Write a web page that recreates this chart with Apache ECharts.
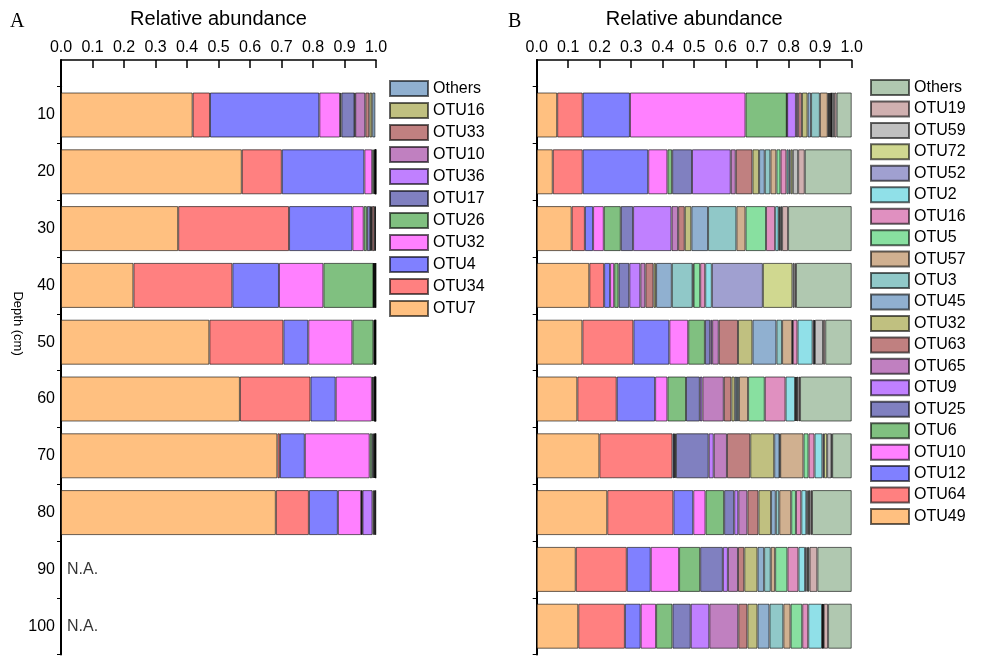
<!DOCTYPE html>
<html>
<head>
<meta charset="utf-8">
<script src="https://cdn.jsdelivr.net/npm/echarts@6/dist/echarts.min.js"></script>
<style>
  html, body { margin: 0; padding: 0; background: #fff; }
  #chart { width: 983px; height: 656px; }
</style>
</head>
<body>
<div id="chart"></div>
<script>
// depth categories (cm)
const depths = ['10', '20', '30', '40', '50', '60', '70', '80', '90', '100'];
const naDepths = ['90', '100'];

// panel A: stacking order, left to right
const otuA = ['OTU7', 'OTU34', 'OTU4', 'OTU32', 'OTU26', 'OTU17', 'OTU36', 'OTU10', 'OTU33', 'OTU16', 'Others'];
const colorsA = ['#FFC080', '#FF8080', '#8080FF', '#FF80FF', '#80C080', '#8080C0', '#C080FF', '#C080C0', '#C08080', '#C0C080', '#90B0D0'];
const a10 = [0.418, 0.055, 0.347, 0.066, 0.004, 0.042, 0.002, 0.032, 0.013, 0.009, 0.010];
const a20 = [0.574, 0.127, 0.262, 0.025, 0.005, 0.003, 0.001, 0.001, 0.001, 0.0005, 0.0005];
const a30 = [0.372, 0.352, 0.201, 0.036, 0.010, 0.011, 0.002, 0.003, 0.008, 0.002, 0.003];
const a40 = [0.230, 0.314, 0.148, 0.141, 0.159, 0.001, 0.001, 0.001, 0.003, 0.001, 0.001];
const a50 = [0.471, 0.235, 0.079, 0.140, 0.067, 0.003, 0.001, 0.001, 0.001, 0.001, 0.001];
const a60 = [0.568, 0.224, 0.080, 0.115, 0.004, 0.004, 0.001, 0.001, 0.001, 0.001, 0.001];
const a70 = [0.687, 0.008, 0.079, 0.206, 0.008, 0.004, 0.002, 0.002, 0.002, 0.001, 0.001];
const a80 = [0.682, 0.105, 0.092, 0.074, 0.002, 0.002, 0.032, 0.004, 0.003, 0.002, 0.002];
const rowsA = [a10, a20, a30, a40, a50, a60, a70, a80, null, null];

// panel B: stacking order, left to right
const otuB = ['OTU49', 'OTU64', 'OTU12', 'OTU10', 'OTU6', 'OTU25', 'OTU9', 'OTU65', 'OTU63', 'OTU32', 'OTU45',
  'OTU3', 'OTU57', 'OTU5', 'OTU16', 'OTU2', 'OTU52', 'OTU72', 'OTU59', 'OTU19', 'Others'];
const colorsB = ['#FFC080', '#FF8080', '#8080FF', '#FF80FF', '#80C080', '#8080C0', '#C080FF', '#C080C0', '#C08080', '#C0C080', '#90B0D0',
  '#90C8C8', '#D0B090', '#88E0A0', '#E090C0', '#90E0E8', '#A0A0D0', '#D0D890', '#C0C0C0', '#D0B0B0', '#B0C8B0'];
const b10 = [0.065, 0.081, 0.150, 0.367, 0.131, 0.001, 0.028, 0.007, 0.012, 0.018, 0.011, 0.028, 0.025, 0.003, 0.003, 0.003, 0.002, 0.002, 0.007, 0.008, 0.048];
const b20 = [0.051, 0.095, 0.208, 0.061, 0.015, 0.063, 0.123, 0.016, 0.053, 0.021, 0.018, 0.018, 0.019, 0.013, 0.019, 0.007, 0.006, 0.007, 0.017, 0.021, 0.149];
const b30 = [0.111, 0.042, 0.026, 0.034, 0.054, 0.039, 0.122, 0.021, 0.021, 0.021, 0.053, 0.090, 0.029, 0.065, 0.029, 0.011, 0.003, 0.003, 0.005, 0.019, 0.202];
const b40 = [0.167, 0.047, 0.019, 0.013, 0.014, 0.034, 0.035, 0.016, 0.026, 0.008, 0.050, 0.066, 0.003, 0.021, 0.016, 0.021, 0.162, 0.094, 0.006, 0.005, 0.177];
const b50 = [0.145, 0.162, 0.114, 0.060, 0.053, 0.017, 0.006, 0.021, 0.061, 0.046, 0.076, 0.018, 0.032, 0.002, 0.015, 0.048, 0.005, 0.002, 0.026, 0.007, 0.084];
const b60 = [0.129, 0.125, 0.122, 0.039, 0.059, 0.044, 0.008, 0.068, 0.024, 0.011, 0.007, 0.006, 0.029, 0.053, 0.066, 0.030, 0.003, 0.003, 0.005, 0.005, 0.164];
const b70 = [0.199, 0.232, 0.005, 0.002, 0.004, 0.104, 0.016, 0.042, 0.074, 0.076, 0.017, 0.002, 0.074, 0.016, 0.019, 0.025, 0.005, 0.010, 0.014, 0.002, 0.062];
const b80 = [0.224, 0.210, 0.063, 0.039, 0.059, 0.032, 0.013, 0.029, 0.035, 0.040, 0.015, 0.011, 0.038, 0.015, 0.017, 0.016, 0.004, 0.004, 0.005, 0.005, 0.126];
const b90 = [0.124, 0.162, 0.076, 0.090, 0.067, 0.072, 0.016, 0.032, 0.020, 0.042, 0.021, 0.021, 0.014, 0.039, 0.035, 0.021, 0.005, 0.004, 0.005, 0.025, 0.109];
const b100 = [0.132, 0.148, 0.050, 0.049, 0.052, 0.058, 0.059, 0.092, 0.029, 0.032, 0.038, 0.044, 0.023, 0.037, 0.019, 0.044, 0.002, 0.001, 0.002, 0.014, 0.075];
const rowsB = [b10, b20, b30, b40, b50, b60, b70, b80, b90, b100];

const FONT = 'Liberation Sans, Arial, sans-serif';
const SERIF = 'Liberation Serif, Times New Roman, serif';
const BAND_TOP = 86.6;
const AXIS_TOP = 60;

const chart = echarts.init(document.getElementById('chart'));

function mainXAxis(idx) {
  return {
    gridIndex: idx,
    type: 'value',
    position: 'top',
    offset: BAND_TOP - AXIS_TOP,
    min: 0,
    max: 1,
    interval: 0.1,
    name: 'Relative abundance',
    nameLocation: 'middle',
    nameGap: 31,
    nameTextStyle: { fontSize: 20, color: '#000', fontFamily: FONT },
    axisLine: { show: true, onZero: false, lineStyle: { color: '#000', width: 1.5 } },
    axisTick: { show: true, inside: true, length: 8, lineStyle: { color: '#000', width: 1.5 } },
    axisLabel: {
      fontSize: 16, color: '#000', fontFamily: FONT, margin: 4,
      formatter: (v) => Number(v).toFixed(1),
    },
    splitLine: { show: false },
  };
}

function fillerXAxis(idx) {
  return { gridIndex: idx, type: 'value', show: false, min: 0, max: 1 };
}

function mainYAxis(idx, withLabels) {
  return {
    gridIndex: idx,
    type: 'category',
    inverse: true,
    data: depths,
    name: withLabels ? 'Depth (cm)' : '',
    nameLocation: 'middle',
    nameRotate: -90,
    nameGap: 36,
    nameTextStyle: { fontSize: 13, color: '#000', fontFamily: FONT, padding: [0, 94, 0, 0] },
    axisLine: { show: true, onZero: false, lineStyle: { color: '#000', width: 2 } },
    axisTick: { show: true, length: 4, lineStyle: { color: '#000' } },
    axisLabel: { show: withLabels, fontSize: 16, color: '#000', fontFamily: FONT, margin: 6 },
  };
}

function fillerYAxis(idx) {
  return {
    gridIndex: idx,
    type: 'value',
    axisLine: { show: true, onZero: false, lineStyle: { color: '#000', width: 2 } },
    axisTick: { show: false },
    axisLabel: { show: false },
    splitLine: { show: false },
  };
}

function buildSeries(prefix, names, colors, rows, axisIdx) {
  return names.map((name, j) => ({
    name: prefix + name,
    type: 'bar',
    stack: prefix,
    xAxisIndex: axisIdx,
    yAxisIndex: axisIdx,
    barWidth: 45,
    data: rows.map((r) => (r ? r[j] : null)),
    itemStyle: { color: colors[j], borderColor: 'rgba(0,0,0,0.6)', borderWidth: 1 },
    emphasis: { disabled: true },
  }));
}

function legendFor(prefix, names, left, top, gap) {
  return {
    orient: 'vertical',
    left: left,
    top: top,
    padding: 0,
    itemWidth: 38,
    itemHeight: 15,
    itemGap: gap,
    icon: 'rect',
    selectedMode: false,
    data: names.slice().reverse().map((n) => prefix + n),
    formatter: (n) => n.slice(prefix.length),
    textStyle: { fontSize: 16, color: '#000', fontFamily: FONT },
  };
}

const series = [
  ...buildSeries('A:', otuA, colorsA, rowsA, 0),
  {
    name: 'na',
    type: 'scatter',
    xAxisIndex: 0,
    yAxisIndex: 0,
    symbolSize: 0,
    silent: true,
    data: naDepths.map((d) => [0, d]),
    label: { show: true, position: 'right', distance: 6, formatter: 'N.A.', fontSize: 16, color: '#000', fontFamily: FONT },
  },
  ...buildSeries('B:', otuB, colorsB, rowsB, 2),
];

chart.setOption({
  animation: false,
  textStyle: { fontFamily: FONT },
  title: [
    { text: 'A', left: 5, top: 7, textStyle: { fontFamily: SERIF, fontWeight: 'normal', fontSize: 20, color: '#000' } },
    { text: 'B', left: 503, top: 7, textStyle: { fontFamily: SERIF, fontWeight: 'normal', fontSize: 20, color: '#000' } },
  ],
  legend: [
    legendFor('A:', otuA, 389, 80, 5.0),
    legendFor('B:', otuB, 870, 79, 4.45),
  ],
  grid: [
    { left: 61, width: 315, top: BAND_TOP, height: 568 },
    { left: 61, width: 315, top: AXIS_TOP, height: BAND_TOP - AXIS_TOP },
    { left: 536.7, width: 315, top: BAND_TOP, height: 568 },
    { left: 536.7, width: 315, top: AXIS_TOP, height: BAND_TOP - AXIS_TOP },
  ],
  xAxis: [mainXAxis(0), fillerXAxis(1), mainXAxis(2), fillerXAxis(3)],
  yAxis: [mainYAxis(0, true), fillerYAxis(1), mainYAxis(2, false), fillerYAxis(3)],
  series: series,
});
</script>
</body>
</html>
